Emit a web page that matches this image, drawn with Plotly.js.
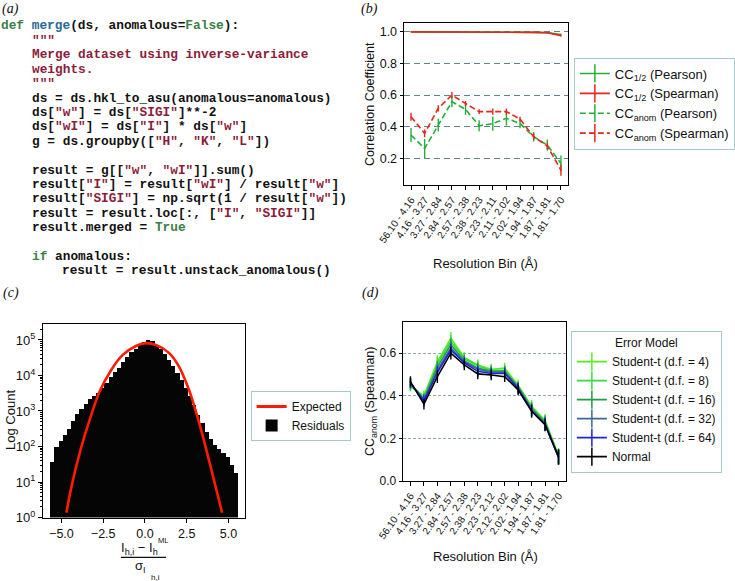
<!DOCTYPE html>
<html><head><meta charset="utf-8">
<script src="https://cdn.plot.ly/plotly-3.0.1.min.js"></script>
<style>html,body{margin:0;padding:0;background:#fff;} #chart{width:735px;height:581px;}</style>
</head><body><div id="chart"></div>
<script>
// ---------- data ----------
const binsB = ["56.10 - 4.16","4.16 - 3.27","3.27 - 2.84","2.84 - 2.57","2.57 - 2.38","2.38 - 2.23","2.23 - 2.11","2.11 - 2.02","2.02 - 1.94","1.94 - 1.87","1.87 - 1.81","1.81 - 1.70"];
const binsD = ["56.10 - 4.16","4.16 - 3.27","3.27 - 2.84","2.84 - 2.57","2.57 - 2.38","2.38 - 2.23","2.23 - 2.12","2.12 - 2.02","2.02 - 1.94","1.94 - 1.87","1.87 - 1.81","1.81 - 1.70"];

const ccHalfPearson     = [0.999,0.999,0.999,0.999,0.999,0.999,0.998,0.998,0.997,0.996,0.994,0.982];
const ccHalfPearsonErr  = [0.002,0.002,0.002,0.002,0.002,0.002,0.002,0.002,0.002,0.003,0.003,0.005];
const ccHalfSpearman    = [0.999,0.999,0.999,0.999,0.999,0.999,0.998,0.998,0.997,0.996,0.993,0.975];
const ccHalfSpearmanErr = [0.002,0.002,0.002,0.002,0.002,0.002,0.002,0.002,0.002,0.003,0.003,0.005];
const ccAnomPearson     = [0.347,0.263,0.410,0.558,0.510,0.406,0.420,0.453,0.420,0.337,0.284,0.168];
const ccAnomPearsonErr  = [0.045,0.060,0.040,0.035,0.035,0.035,0.045,0.045,0.030,0.030,0.035,0.050];
const ccAnomSpearman    = [0.463,0.358,0.516,0.600,0.547,0.495,0.495,0.495,0.448,0.337,0.278,0.126];
const ccAnomSpearmanErr = [0.025,0.025,0.020,0.020,0.015,0.015,0.020,0.020,0.015,0.020,0.020,0.035];

const residualCenters = [-5.55,-5.30,-5.05,-4.80,-4.55,-4.30,-4.05,-3.80,-3.55,-3.30,-3.05,-2.80,-2.55,-2.30,-2.05,-1.80,-1.55,-1.30,-1.05,-0.80,-0.55,-0.30,-0.05,0.20,0.45,0.70,0.95,1.20,1.45,1.70,1.95,2.20,2.45,2.70,2.95,3.20,3.45,3.70,3.95,4.20,4.45,4.70,4.95,5.20,5.45];
const residualCounts  = [37,95,145,209,316,525,832,1120,1580,2140,2690,3310,4470,6310,8910,12600,16600,24000,33100,44700,57500,70800,85100,100000,91200,72400,55000,39800,28200,19100,12000,7590,4570,2630,1480,794,447,251,158,112,85,66,50,30,18];
const expectedX = [-4.70,-4.40,-3.91,-3.31,-2.72,-2.03,-1.33,-0.54,0.02,0.66,1.45,2.04,2.64,3.14,3.63,4.13,4.62];
const expectedY = [1.36,7.4,65,560,3470,14100,38000,67600,81300,72400,42700,17800,3890,690,98,11.5,1.36];

const dfNames = ["Student-t (d.f. = 4)","Student-t (d.f. = 8)","Student-t (d.f. = 16)","Student-t (d.f. = 32)","Student-t (d.f. = 64)","Normal"];
const ccStudent4  = [0.445,0.400,0.560,0.670,0.580,0.545,0.525,0.530,0.450,0.350,0.285,0.120];
const ccStudent8  = [0.450,0.390,0.550,0.655,0.575,0.540,0.520,0.520,0.445,0.345,0.280,0.115];
const ccStudent16 = [0.455,0.385,0.535,0.640,0.565,0.530,0.515,0.515,0.440,0.340,0.275,0.115];
const ccStudent32 = [0.460,0.380,0.520,0.625,0.560,0.525,0.510,0.510,0.440,0.335,0.270,0.110];
const ccStudent64 = [0.460,0.375,0.510,0.615,0.555,0.515,0.505,0.505,0.435,0.330,0.265,0.110];
const ccNormal    = [0.467,0.361,0.490,0.600,0.545,0.503,0.498,0.490,0.428,0.327,0.264,0.114];
const ccErrD      = [0.025,0.025,0.030,0.030,0.025,0.025,0.025,0.025,0.025,0.030,0.030,0.035];

const yTickLogVals = [1,10,100,1000,10000,100000];
const yTickLogText = ["10<sup>0</sup>","10<sup>1</sup>","10<sup>2</sup>","10<sup>3</sup>","10<sup>4</sup>","10<sup>5</sup>"];

// ---------- helpers ----------
const W = 735, H = 581;
const px = x => x / W;
const py = y => 1 - y / H;
const SANS = "Liberation Sans, Arial, sans-serif";
const GREEN = "#22b03a", RED = "#e8261c";
const dfColors = ["#55f01a","#33dd44","#22994a","#3a6a98","#2222dd","#000000"];

const traces = [];
function errLine(x, y, err, color, dash, xa, ya) {
  return {type:"scatter", mode:"lines", x:x, y:y, xaxis:xa, yaxis:ya, showlegend:false,
    line:{color:color, width:1.6, dash:dash||"solid"},
    error_y:{type:"data", array:err, visible:true, color:color, thickness:1.4, width:0}};
}
function legendEntry(name, color, dash, legend, xa, ya) {
  return {type:"scatter", mode:"lines+markers", x:[null], y:[null], xaxis:xa, yaxis:ya, name:name, legend:legend,
    line:{color:color, width:1.6, dash:dash||"solid"},
    marker:{symbol:"line-ns-open", size:13, color:color, line:{color:color, width:1.5}}};
}

// (b)
traces.push(errLine(binsB, ccHalfPearson, ccHalfPearsonErr, GREEN, "solid", "x", "y"));
traces.push(errLine(binsB, ccHalfSpearman, ccHalfSpearmanErr, RED, "solid", "x", "y"));
traces.push(errLine(binsB, ccAnomPearson, ccAnomPearsonErr, GREEN, "6px,3px", "x", "y"));
traces.push(errLine(binsB, ccAnomSpearman, ccAnomSpearmanErr, RED, "6px,3px", "x", "y"));
traces.push(legendEntry("CC<sub>1/2</sub> (Pearson)", GREEN, "solid", "legend", "x", "y"));
traces.push(legendEntry("CC<sub>1/2</sub> (Spearman)", RED, "solid", "legend", "x", "y"));
traces.push(legendEntry("CC<sub>anom</sub> (Pearson)", GREEN, "6px,3px", "legend", "x", "y"));
traces.push(legendEntry("CC<sub>anom</sub> (Spearman)", RED, "6px,3px", "legend", "x", "y"));

// (c)
traces.push({type:"scatter", mode:"lines", x:[null], y:[null], xaxis:"x2", yaxis:"y2", name:"Expected", legend:"legend2",
  line:{color:"#ff1a00", width:3}});
traces.push({type:"bar", x:residualCenters, y:residualCounts, width:0.25, xaxis:"x2", yaxis:"y2", name:"Residuals", legend:"legend2",
  marker:{color:"#050505", line:{width:0}}});
traces.push({type:"scatter", mode:"lines", x:expectedX, y:expectedY, xaxis:"x2", yaxis:"y2", showlegend:false,
  line:{color:"#ff1a00", width:2.6, shape:"spline", smoothing:1}});

// (d)
const seriesD = [ccStudent4, ccStudent8, ccStudent16, ccStudent32, ccStudent64, ccNormal];
seriesD.forEach((s, i) => traces.push(errLine(binsD, s, ccErrD, dfColors[i], "solid", "x3", "y3")));
dfNames.forEach((n, i) => traces.push(legendEntry(n, dfColors[i], "solid", "legend3", "x3", "y3")));

// ---------- code panel ----------
const K = "#3a7f45", F = "#2a6a92", S = "#8b1c3a";
const sp = (c, t) => `<span style="color:${c}">${t}</span>`;
const codeLines = [
  [0, 0, `${sp(K,"def")} ${sp(F,"merge")}(ds, anomalous=${sp(K,"False")}):`],
  [1, 4, sp(S,'"""')],
  [2, 4, sp(S,"Merge dataset using inverse-variance")],
  [3, 4, sp(S,"weights.")],
  [4, 4, sp(S,'"""')],
  [5, 4, "ds = ds.hkl_to_asu(anomalous=anomalous)"],
  [6, 4, `ds[${sp(S,'"w"')}] = ds[${sp(S,'"SIGI"')}]**-2`],
  [7, 4, `ds[${sp(S,'"wI"')}] = ds[${sp(S,'"I"')}] * ds[${sp(S,'"w"')}]`],
  [8, 4, `g = ds.groupby([${sp(S,'"H"')}, ${sp(S,'"K"')}, ${sp(S,'"L"')}])`],
  [10, 4, `result = g[[${sp(S,'"w"')}, ${sp(S,'"wI"')}]].sum()`],
  [11, 4, `result[${sp(S,'"I"')}] = result[${sp(S,'"wI"')}] / result[${sp(S,'"w"')}]`],
  [12, 4, `result[${sp(S,'"SIGI"')}] = np.sqrt(1 / result[${sp(S,'"w"')}])`],
  [13, 4, `result = result.loc[:, [${sp(S,'"I"')}, ${sp(S,'"SIGI"')}]]`],
  [14, 4, `result.merged = ${sp(K,"True")}`],
  [16, 4, `${sp(K,"if")} anomalous:`],
  [17, 8, "result = result.unstack_anomalous()"]
];
const annotations = [];
const CW = 7.68;
codeLines.forEach(([row, ind, txt]) => {
  annotations.push({xref:"paper", yref:"paper", x:px(ind*CW - 1), y:py(26 + 14.4*row), xanchor:"left", yanchor:"middle",
    showarrow:false, text:txt, font:{family:"Liberation Mono, Courier New, monospace", size:12.8, weight:"bold", color:"#111"}});
});

function ann(text, x, y, opts) {
  return Object.assign({xref:"paper", yref:"paper", x:px(x), y:py(y), xanchor:"center", yanchor:"middle", showarrow:false,
    text:text, font:{family:SANS, size:13, color:"#111"}}, opts||{});
}
const serif = {family:"Liberation Serif, Times New Roman, serif", size:14, style:"italic", color:"#111"};
annotations.push(ann("(a)", 11, 9, {font:serif}));
annotations.push(ann("(b)", 372, 9, {font:serif}));
annotations.push(ann("(c)", 11, 293, {font:serif}));
annotations.push(ann("(d)", 373, 293, {font:serif}));

annotations.push(ann("Correlation Coefficient", 372, 104, {textangle:-90, font:{family:SANS, size:12.5, color:"#111"}}));
annotations.push(ann("Resolution Bin (Å)", 488, 263, {font:{family:SANS, size:13, color:"#111"}}));
annotations.push(ann("CC<sub>anom</sub> (Spearman)", 373, 401, {textangle:-90, font:{family:SANS, size:12.5, color:"#111"}}));
annotations.push(ann("Resolution Bin (Å)", 488, 556, {font:{family:SANS, size:13, color:"#111"}}));
annotations.push(ann("Log Count", 10, 420, {textangle:-90, font:{family:SANS, size:13, color:"#111"}}));
annotations.push(ann("I<sub>h,i</sub> − I<sub>h</sub>", 121, 548, {xanchor:"left", yanchor:"middle", borderpad:0, font:{family:SANS, size:13, color:"#111"}}));
annotations.push(ann("ML", 158, 540, {xanchor:"left", borderpad:0, font:{family:SANS, size:7.5, color:"#111"}}));
annotations.push(ann("σ<sub>I</sub>", 141, 566, {font:{family:SANS, size:13, color:"#111"}}));
annotations.push(ann("h,i", 150, 577, {xanchor:"left", font:{family:SANS, size:8, color:"#111"}}));

const minorLog = [];
[1,10,100,1000,10000,100000].forEach(d => { for (let k = 2; k <= 9; k++) minorLog.push(d*k); });

const frame = {showline:true, mirror:true, linecolor:"#000", linewidth:1.2, ticks:"outside", ticklen:4, tickcolor:"#000", tickwidth:1, zeroline:false};
const legendBox = {bgcolor:"#fff", bordercolor:"#a9c8cc", borderwidth:1, xref:"paper", yref:"paper", xanchor:"left", yanchor:"middle", traceorder:"normal"};

const layout = {
  width:W, height:H, margin:{l:0, r:0, t:0, b:0}, paper_bgcolor:"#fff", plot_bgcolor:"#fff",
  font:{family:SANS, color:"#111"},
  showlegend:true, bargap:0,
  xaxis:Object.assign({}, frame, {domain:[px(406), px(571)], anchor:"y", type:"category", range:[-0.53, 11.51],
    tickangle:-55, tickfont:{size:10}, showgrid:false}),
  yaxis:Object.assign({}, frame, {domain:[py(185), py(23.3)], anchor:"x", range:[0.032, 1.053],
    tickvals:[0.2,0.4,0.6,0.8,1.0], tickformat:".1f", tickfont:{size:12.5}, ticklen:3,
    showgrid:true, gridcolor:"#5f8390", griddash:"6px,4px", gridwidth:1}),
  xaxis2:Object.assign({}, frame, {domain:[px(43.3), px(246)], anchor:"y2", range:[-6.1, 5.97],
    tickvals:[-5,-2.5,0,2.5,5], tickformat:".1f", tickfont:{size:12.5}, showgrid:false}),
  yaxis2:Object.assign({}, frame, {domain:[py(517.5), py(324)], anchor:"x2", type:"log", range:[0, 5.45],
    tickmode:"array", tickvals:yTickLogVals, ticktext:yTickLogText, tickfont:{size:13}, showgrid:false,
    minor:{tickmode:"array", tickvals:minorLog, ticks:"outside", ticklen:2, tickcolor:"#000", showgrid:false}}),
  xaxis3:Object.assign({}, frame, {domain:[px(405), px(569.3)], anchor:"y3", type:"category", range:[-0.57, 11.57],
    tickangle:-55, tickfont:{size:10}, showgrid:false}),
  yaxis3:Object.assign({}, frame, {domain:[py(481), py(321.7)], anchor:"x3", range:[0, 0.748],
    tickvals:[0,0.2,0.4,0.6], tickformat:".1f", tickfont:{size:12}, ticklen:3,
    showgrid:true, gridcolor:"#8faab4", griddash:"3px,2px", gridwidth:1}),
  legend:Object.assign({}, legendBox, {x:px(577), y:py(103.5), font:{family:SANS, size:13, color:"#111"}}),
  legend2:Object.assign({}, legendBox, {x:px(252), y:py(416), font:{family:SANS, size:12, color:"#111"}}),
  legend3:Object.assign({}, legendBox, {x:px(574), y:py(401.5), font:{family:SANS, size:12, color:"#111"},
    title:{text:"Error Model", side:"top center", font:{family:SANS, size:12, color:"#111"}}}),
  annotations:annotations,
  shapes:[{type:"line", xref:"paper", yref:"paper", x0:px(121.5), x1:px(167), y0:py(557.3), y1:py(557.3), line:{color:"#111", width:1.2}}]
};

Plotly.newPlot("chart", traces, layout, {displayModeBar:false, staticPlot:true});
</script>
</body></html>
